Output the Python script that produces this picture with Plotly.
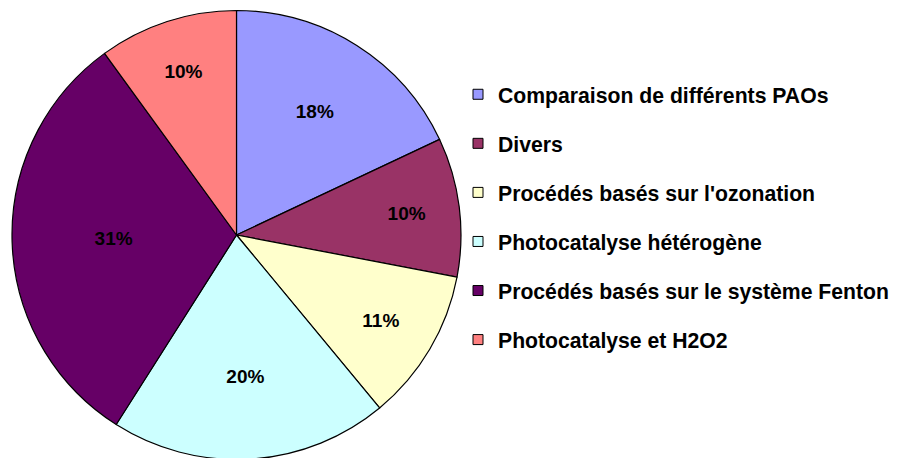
import plotly.graph_objects as go

categories = [
    "Comparaison de différents PAOs",
    "Divers",
    "Procédés basés sur l'ozonation",
    "Photocatalyse hétérogène",
    "Procédés basés sur le système Fenton",
    "Photocatalyse et H2O2",
]
shares = [18, 10, 11, 20, 31, 10]
colors = ["#9999FF", "#993366", "#FFFFCC", "#CCFFFF", "#660066", "#FF8080"]

FONT = "Liberation Sans, Arial, sans-serif"
W, H = 905, 458

fig = go.Figure()
fig.add_trace(go.Pie(
    labels=categories,
    values=shares,
    sort=False,
    direction="clockwise",
    rotation=0,
    marker=dict(colors=colors, line=dict(color="black", width=1.2)),
    texttemplate="<b>%{value}%</b>",
    textposition="inside",
    insidetextorientation="horizontal",
    textfont=dict(family=FONT, size=19, color="black"),
    domain=dict(x=[4 / W, 453 / W], y=[1 - 452 / H, 1 - 2 / H]),
    showlegend=False,
    hoverinfo="label+percent",
))

# legend entries (one per category) via invisible scatter traces
for name, col in zip(categories, colors):
    fig.add_trace(go.Scatter(
        x=[None], y=[None], mode="markers", name=f"<b>{name}</b>",
        legendgroup=name,
        marker=dict(symbol="square", size=10, color=col,
                    line=dict(color="black", width=1)),
    ))

fig.update_layout(
    width=W, height=H,
    margin=dict(l=0, r=0, t=0, b=0),
    paper_bgcolor="white", plot_bgcolor="white",
    xaxis=dict(visible=False), yaxis=dict(visible=False),
    legend=dict(
        x=450 / W, y=1 - 66 / H, xanchor="left", yanchor="top",
        font=dict(family=FONT, size=21.2, color="black"),
        tracegroupgap=18.5, traceorder="grouped",
        bgcolor="rgba(0,0,0,0)", borderwidth=0,
    ),
)

fig.write_html("out.html")
